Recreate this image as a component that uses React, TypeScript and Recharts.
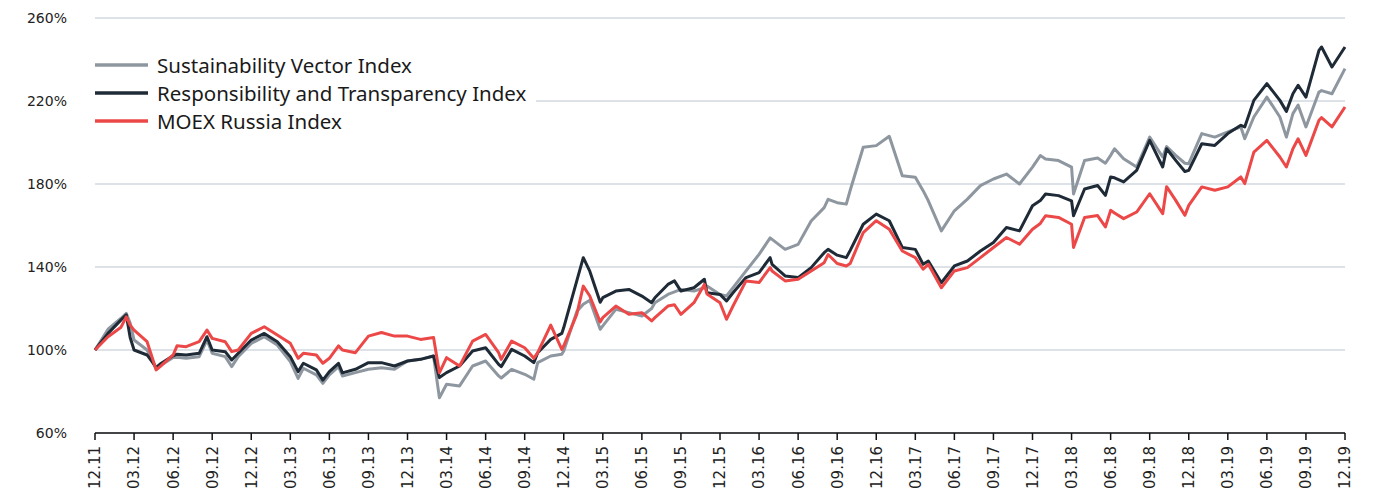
import React from "react";
import { LineChart, Line, XAxis, YAxis, CartesianGrid } from "recharts";

// month offsets from 12.11 (0) to 12.19 (96), some readings between months
const months = [
  0, 1, 2, 2.4, 2.7, 3, 4, 4.7, 5, 6, 6.3, 7, 8, 8.6, 9, 10, 10.5, 11, 12, 13, 14, 15, 15.6, 16, 17, 17.5, 18,
  18.7, 19, 20, 21, 22, 23, 24, 25, 26, 26.45, 27, 28, 29, 30, 31, 31.2, 32, 33, 33.7, 34, 35, 35.85, 36, 37,
  37.5, 38, 38.8, 39, 40, 41, 42, 42.75, 43, 44, 44.5, 45, 46, 46.8, 47, 48, 48.5, 49, 50, 51, 51.85, 52, 53,
  54, 55, 56, 56.3, 57, 57.7, 58, 59, 60, 61, 62, 63, 63.6, 64, 65, 66, 67, 68, 69, 70, 71, 72, 72.6, 73, 74,
  75, 75.15, 76, 77, 77.6, 78, 78.3, 79, 80, 81, 82, 82.3, 83, 83.7, 84, 85, 86, 87, 88, 88.3, 89, 90, 91,
  91.5, 92, 92.4, 93, 94, 94.2, 95, 96,
];

const sustainability = [
  100, 110, 115.3, 117.7, 113, 104.8, 100, 90.8, 92.4, 96.4, 96.5, 96, 96.8, 104.8, 98.4, 96.8, 92, 96.8, 103.2,
  106.4, 102.4, 94.4, 86.3, 91.2, 88, 83.9, 88, 92, 87.5, 89.1, 90.7, 91.5, 90.7, 94.7, 95.5, 97.1, 77, 83.5,
  82.7, 92.3, 94.7, 87.5, 86.5, 90.7, 88.3, 85.9, 93.9, 97.1, 98, 99.5, 118.5, 122, 124, 110, 111.6, 119.6, 118,
  116.4, 120, 122.8, 126.8, 128, 129.2, 128.4, 130, 130.8, 126.8, 126, 130, 138.1, 146.1, 154, 153.3, 148.5,
  150.9, 162.2, 168.6, 172.6, 171, 170.3, 177, 197.7, 198.5, 203, 184, 183.2, 176.8, 171.9, 157.4, 167.1, 172.7,
  179.2, 182.4, 184.8, 180, 188.1, 193.7, 192.1, 191.3, 188.1, 175.2, 191.3, 192.5, 190, 193.8, 197, 192.2,
  188.2, 202.6, 193, 198, 193.8, 190, 189.8, 204.3, 202.6, 205.1, 207.5, 201.8, 212.3, 221.9, 212.3, 202.6,
  213.9, 218, 207.5, 224.3, 225, 223.5, 235.6,
];

const transparency = [
  100, 108, 114.5, 117, 106, 100, 97.6, 91.6, 93.2, 97.2, 98, 97.6, 98.4, 106.4, 100, 99.2, 95.2, 98.4, 104.8,
  108, 104, 96.8, 89.6, 93.6, 90.4, 85.5, 89.6, 93.6, 89, 90.7, 93.9, 93.9, 92.3, 94.7, 95.5, 97.1, 86.7, 89.1,
  92.3, 99.5, 101.1, 93.1, 92, 100.3, 97.1, 93.9, 98.7, 105.1, 108, 110.8, 133.3, 144.5, 138, 123, 125.2, 128.4,
  129.2, 126, 122.8, 125.2, 131.6, 133.3, 128.4, 130, 134.1, 127.6, 126.8, 123.6, 127.6, 134.9, 137.3, 144.5,
  141.3, 135.7, 134.9, 139.7, 146.9, 148.5, 145.7, 144.5, 148, 160.6, 165.5, 162.3, 149.4, 148.5, 141.3, 142.9,
  132.4, 140.5, 142.9, 147.7, 151.8, 159, 157.4, 169.5, 172, 175.2, 174.4, 171.9, 164.7, 177.6, 179.3, 174.5,
  183.4, 183, 181, 186.6, 201, 188.2, 197, 191.4, 186, 186.6, 199.4, 198.6, 204.3, 208.3, 207.5, 220.3, 228.4,
  220.3, 215, 223.5, 227.6, 221.9, 244.4, 246, 236.4, 246,
];

const moex = [
  100, 106.4, 111, 116, 112, 109.6, 104, 90.4, 92, 97.6, 102, 101.6, 104, 109.6, 105.6, 104, 99.2, 100, 108,
  111.2, 107.2, 103.2, 96, 98.4, 97.6, 93.6, 96, 102, 100, 98.7, 106.7, 108.4, 106.7, 106.7, 105.1, 106, 89,
  96.3, 92.3, 104.3, 107.5, 98.7, 95.5, 104.3, 101.1, 96, 98.7, 112, 100.3, 102, 117.2, 130.8, 126, 113.5, 115.6,
  121.2, 117.2, 118, 114, 115.6, 121.2, 121.8, 117.2, 122.8, 131.6, 127, 122.8, 114.8, 121.2, 133.3, 132.5,
  139.7, 138.1, 133.3, 134.1, 138.1, 142.1, 146, 141.7, 140.5, 141.7, 156.6, 162.3, 158.2, 147.7, 144.5, 138.9,
  141.3, 130, 138.1, 139.7, 144.5, 149.4, 154.2, 151, 158.2, 161, 164.7, 163.9, 160.6, 149.4, 163.9, 164.8,
  159.3, 167.3, 166, 163.3, 166.5, 175.3, 165.7, 178.7, 172.1, 164.9, 169.7, 178.6, 177, 178.6, 183.4, 180.2,
  195.4, 201, 193, 188.2, 197, 201.8, 193.8, 210.7, 212, 207.5, 217.1,
];

const quarterLabels = [
  "12.11", "03.12", "06.12", "09.12", "12.12", "03.13", "06.13", "09.13", "12.13", "03.14", "06.14",
  "09.14", "12.14", "03.15", "06.15", "09.15", "12.15", "03.16", "06.16", "09.16", "12.16", "03.17",
  "06.17", "09.17", "12.17", "03.18", "06.18", "09.18", "12.18", "03.19", "06.19", "09.19", "12.19",
];

const yTicks = [60, 100, 140, 180, 220, 260];

const seriesNames = [
  "Sustainability Vector Index",
  "Responsibility and Transparency Index",
  "MOEX Russia Index",
];

const COLORS = ["#8e979f", "#1f2a37", "#ec4848"];

const data = months.map((t, i) => ({
  t,
  sv: sustainability[i],
  rt: transparency[i],
  moex: moex[i],
}));

const quarterTicks = quarterLabels.map((_, i) => i * 3);

const YTick = ({ x, y, payload }: any) => (
  <text x={x} y={y} dy={5} textAnchor="end" fontFamily="DejaVu Sans" fontSize={14} fill="#222">
    {payload.value}%
  </text>
);

const XTick = ({ x, y, payload }: any) => (
  <g transform={`translate(${x},${y})`}>
    <text transform="rotate(-90)" textAnchor="end" dy="0.36em" fontFamily="DejaVu Sans" fontSize={15} fill="#222">
      {quarterLabels[Math.round(payload.value / 3)]}
    </text>
  </g>
);

// drawn over the chart like in the original, with a white box hiding the 220% gridline
const LegendBox = () => (
  <div
    style={{
      position: "absolute",
      left: 88,
      top: 47,
      background: "white",
      padding: "4px 10px 4px 7px",
      fontFamily: "Noto Sans",
      fontSize: 20.5,
      color: "#1a1a1a",
      lineHeight: "28px",
    }}
  >
    {seriesNames.map((name, i) => (
      <div key={name} style={{ display: "flex", alignItems: "center", height: 28 }}>
        <svg width={53} height={6} style={{ marginRight: 9 }}>
          <line x1={0} y1={3} x2={53} y2={3} stroke={COLORS[i]} strokeWidth={3.5} />
        </svg>
        <span>{name}</span>
      </div>
    ))}
  </div>
);

export default function App() {
  return (
    <div style={{ position: "absolute", left: 0, top: 0, width: 1378, height: 488, background: "white" }}>
      <LineChart width={1378} height={488} data={data} margin={{ top: 18, right: 33, bottom: 0, left: 0 }}>
        <CartesianGrid vertical={false} stroke="#d2d9e0" strokeWidth={1.5} />
        <XAxis
          dataKey="t"
          type="number"
          domain={[0, 96]}
          ticks={quarterTicks}
          height={55}
          stroke="#111"
          strokeWidth={1.5}
          tickSize={7}
          tickMargin={6}
          tick={<XTick />}
          interval={0}
        />
        <YAxis
          domain={[60, 260]}
          ticks={yTicks}
          width={95}
          axisLine={false}
          tickLine={false}
          tickSize={0}
          tickMargin={28}
          tick={<YTick />}
        />
        <Line type="linear" dataKey="sv" stroke={COLORS[0]} strokeWidth={3} dot={false} isAnimationActive={false} strokeLinejoin="round" />
        <Line type="linear" dataKey="rt" stroke={COLORS[1]} strokeWidth={3} dot={false} isAnimationActive={false} strokeLinejoin="round" />
        <Line type="linear" dataKey="moex" stroke={COLORS[2]} strokeWidth={3} dot={false} isAnimationActive={false} strokeLinejoin="round" />
      </LineChart>
      <LegendBox />
    </div>
  );
}
